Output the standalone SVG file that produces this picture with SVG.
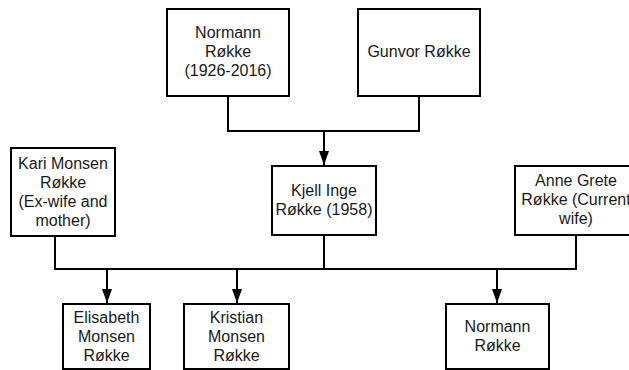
<svg xmlns="http://www.w3.org/2000/svg" width="629" height="370" viewBox="0 0 629 370">
<style>
.box{fill:#fff;stroke:#000;stroke-width:2}
.t{font-family:"Liberation Sans",Arial,sans-serif;font-size:16px;fill:#1a1a1a;text-anchor:middle}
.c{fill:none;stroke:#000;stroke-width:2}
</style>
<defs>
<marker id="arr" markerUnits="userSpaceOnUse" viewBox="0 0 14 10" markerWidth="14" markerHeight="10" refX="14" refY="5" orient="auto">
<path d="M0,0 L14,5 L0,10 z" fill="#000"/>
</marker>
</defs>
<rect width="629" height="370" fill="#fff"/>
<g id="connectors">
<polyline class="c" points="228,96 228,131 419,131 419,96"/>
<line class="c" x1="324" y1="131" x2="324" y2="165" marker-end="url(#arr)"/>
<polyline class="c" points="55,236 55,269 576,269 576,235"/>
<line class="c" x1="324" y1="235" x2="324" y2="269"/>
<line class="c" x1="107" y1="269" x2="107" y2="303" marker-end="url(#arr)"/>
<line class="c" x1="237" y1="269" x2="237" y2="303" marker-end="url(#arr)"/>
<line class="c" x1="497" y1="269" x2="497" y2="303" marker-end="url(#arr)"/>
</g>
<g id="normann-sr">
<rect class="box" x="167" y="9" width="122" height="87"/>
<text class="t" x="228" y="38">Normann</text>
<text class="t" x="228" y="57">Røkke</text>
<text class="t" x="228" y="76">(1926-2016)</text>
</g>
<g id="gunvor">
<rect class="box" x="358" y="9" width="122" height="87"/>
<text class="t" x="419" y="57">Gunvor Røkke</text>
</g>
<g id="kari">
<rect class="box" x="11" y="148" width="104" height="88"/>
<text class="t" x="63" y="168.5">Kari Monsen</text>
<text class="t" x="63" y="187.5">Røkke</text>
<text class="t" x="63" y="206.5">(Ex-wife and</text>
<text class="t" x="63" y="225.5">mother)</text>
</g>
<g id="kjell">
<rect class="box" x="272" y="166" width="104" height="69"/>
<text class="t" x="324" y="196">Kjell Inge</text>
<text class="t" x="324" y="215">Røkke (1958)</text>
</g>
<g id="anne">
<rect class="box" x="515" y="166" width="122" height="69"/>
<text class="t" x="576" y="186">Anne Grete</text>
<text class="t" x="576" y="205">Røkke (Current</text>
<text class="t" x="576" y="224">wife)</text>
</g>
<g id="elisabeth">
<rect class="box" x="63" y="304" width="87" height="65"/>
<text class="t" x="106.5" y="322.5">Elisabeth</text>
<text class="t" x="106.5" y="341.5">Monsen</text>
<text class="t" x="106.5" y="360.5">Røkke</text>
</g>
<g id="kristian">
<rect class="box" x="184" y="304" width="105" height="65"/>
<text class="t" x="236.5" y="322.5">Kristian</text>
<text class="t" x="236.5" y="341.5">Monsen</text>
<text class="t" x="236.5" y="360.5">Røkke</text>
</g>
<g id="normann-jr">
<rect class="box" x="446" y="304" width="103" height="65"/>
<text class="t" x="497.5" y="332">Normann</text>
<text class="t" x="497.5" y="351">Røkke</text>
</g>
</svg>
